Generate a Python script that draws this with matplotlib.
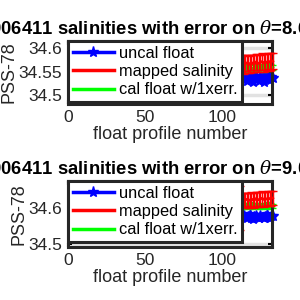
import matplotlib
matplotlib.use('Agg')
import matplotlib.pyplot as plt
from matplotlib.lines import Line2D

plt.rcParams['font.family'] = ['Liberation Sans', 'DejaVu Sans']
plt.rcParams['mathtext.fontset'] = 'dejavuserif'

# numéros de profil visibles (le reste est sous la légende)
profils = [112, 113, 114, 115, 116, 117, 118, 119, 120, 121, 122, 123, 124,
           125, 126, 127, 128, 129, 130, 131, 132, 133]

# theta = 8.652
sal_brut_1 = [34.538, 34.534, 34.541, 34.536, 34.530, 34.539, 34.544, 34.533,
              34.528, 34.537, 34.542, 34.535, 34.531, 34.540, 34.536, 34.529,
              34.538, 34.543, 34.534, 34.532, 34.539, 34.536]
sal_map_1 = [34.566, 34.567, 34.565, 34.568, 34.569, 34.567, 34.566, 34.570,
             34.568, 34.567, 34.571, 34.569, 34.568, 34.570, 34.572, 34.569,
             34.571, 34.570, 34.573, 34.571, 34.572, 34.573]
err_map_1 = [0.019, 0.018, 0.019, 0.017, 0.018, 0.019, 0.018, 0.017,
             0.019, 0.018, 0.017, 0.019, 0.018, 0.017, 0.018, 0.019,
             0.017, 0.018, 0.017, 0.019, 0.018, 0.017]
sal_cal_1 = [34.560, 34.557, 34.562, 34.559, 34.556, 34.561, 34.563, 34.558,
             34.555, 34.560, 34.562, 34.558, 34.557, 34.561, 34.559, 34.556,
             34.560, 34.563, 34.558, 34.557, 34.561, 34.559]
err_cal_1 = [0.006] * len(profils)

# theta = 9.013
sal_brut_2 = [34.578, 34.574, 34.581, 34.576, 34.571, 34.579, 34.584, 34.573,
              34.570, 34.577, 34.582, 34.575, 34.572, 34.580, 34.576, 34.571,
              34.578, 34.583, 34.574, 34.573, 34.579, 34.577]
sal_map_2 = [34.600, 34.622, 34.621, 34.623, 34.624, 34.622, 34.621, 34.625,
             34.623, 34.622, 34.626, 34.624, 34.623, 34.625, 34.627, 34.624,
             34.626, 34.625, 34.627, 34.626, 34.627, 34.628]
err_map_2 = [0.060, 0.020, 0.021, 0.020, 0.019, 0.021, 0.020, 0.019,
             0.020, 0.021, 0.019, 0.020, 0.021, 0.019, 0.020, 0.021,
             0.019, 0.020, 0.019, 0.021, 0.020, 0.019]
sal_cal_2 = [34.607, 34.604, 34.609, 34.606, 34.603, 34.608, 34.610, 34.605,
             34.602, 34.607, 34.609, 34.605, 34.604, 34.608, 34.606, 34.603,
             34.607, 34.610, 34.605, 34.604, 34.608, 34.606]
err_cal_2 = [0.006] * len(profils)

titres = ['6906411 salinities with error on $\\theta$=8.652\u00b0C',
          '6906411 salinities with error on $\\theta$=9.013\u00b0C']
limites_y = [(34.481, 34.616), (34.492, 34.675)]
ticks_y = [[34.5, 34.55, 34.6], [34.5, 34.6]]
positions = [[0.2267, 0.6533, 0.68, 0.21], [0.2267, 0.1767, 0.68, 0.22]]
legende = ['uncal float', 'mapped salinity', 'cal float w/1xerr.']

fig = plt.figure(figsize=(3, 3), dpi=100)

panneaux = [(sal_brut_1, sal_map_1, err_map_1, sal_cal_1, err_cal_1),
            (sal_brut_2, sal_map_2, err_map_2, sal_cal_2, err_cal_2)]

for k, (brut, smap, emap, scal, ecal) in enumerate(panneaux):
    ax = fig.add_axes(positions[k])
    ax.plot(profils, brut, color='blue', marker='*', markersize=7,
            linewidth=2, clip_on=False, zorder=2)
    ax.errorbar(profils, scal, yerr=ecal, color='#00ff00', linewidth=2,
                elinewidth=1.5, capsize=2, clip_on=False, zorder=2.5)
    ax.errorbar(profils, smap, yerr=emap, color='red', linewidth=2,
                elinewidth=1, capsize=3, clip_on=False, zorder=3)

    ax.set_xlim(0, 132.5)
    ax.set_ylim(*limites_y[k])
    ax.set_xticks([0, 50, 100])
    ax.set_yticks(ticks_y[k])
    ax.set_yticklabels([f'{v:g}' for v in ticks_y[k]])
    ax.grid(True, color='#e2e2e2', linewidth=2.5, zorder=0)
    ax.set_axisbelow(True)

    ax.tick_params(direction='in', length=3, width=1.5, top=True, right=True,
                   labelsize=12.5, labelcolor='#262626', pad=4)
    for s in ax.spines.values():
        s.set_linewidth(2.2)
        s.set_color('#262626')

    ax.set_title(titres[k], fontsize=13.3, fontweight='bold', pad=5, x=0.475)
    ax.set_xlabel('float profile number', fontsize=13, color='#262626',
                  labelpad=1)
    ax.set_ylabel('PSS-78', fontsize=13, color='#262626', labelpad=1)

    poignees = [Line2D([], [], color='blue', marker='*', markersize=8, linewidth=2.5),
                Line2D([], [], color='red', linewidth=2.5),
                Line2D([], [], color='#00ff00', linewidth=2.5)]
    leg = ax.legend(poignees, legende, loc='upper left',
                    bbox_to_anchor=(0.0, 1.0), borderaxespad=0,
                    fancybox=False, framealpha=1, edgecolor='#262626',
                    fontsize=11.8, handlelength=2.5, labelspacing=0.2,
                    borderpad=0.3, handletextpad=0.3)
    leg.get_frame().set_linewidth(2.2)
    leg.set_zorder(10)

fig.savefig('out.png', dpi=100)
